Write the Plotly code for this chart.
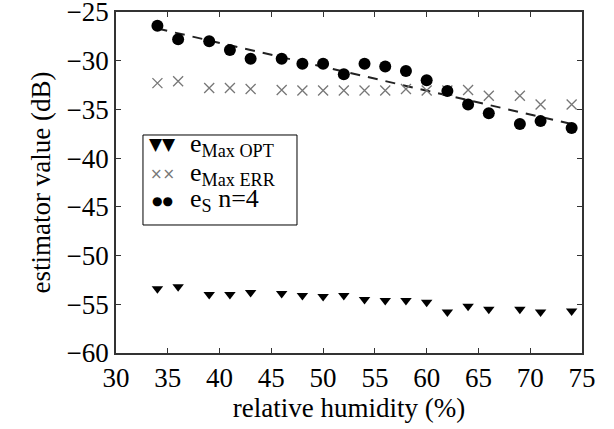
import plotly.graph_objects as go

humidity = [34, 36, 39, 41, 43, 46, 48, 50, 52, 54, 56, 58, 60, 62, 64, 66, 69, 71, 74]
e_max_opt = [-53.4, -53.2, -54.0, -54.0, -53.8, -53.9, -54.1, -54.2, -54.1, -54.5,
             -54.6, -54.6, -54.8, -55.8, -55.2, -55.5, -55.5, -55.8, -55.7]
e_max_err = [-32.3, -32.1, -32.8, -32.8, -32.9, -33.0, -33.05, -33.05, -33.05, -33.05,
             -33.05, -32.9, -33.05, -33.05, -33.0, -33.6, -33.6, -34.5, -34.5]
e_s = [-26.4, -27.8, -28.0, -28.9, -29.8, -29.8, -30.3, -30.3, -31.4, -30.3,
       -30.6, -31.05, -32.0, -33.1, -34.5, -35.4, -36.5, -36.2, -36.9]
fit_x = [34, 74]
fit_y = [-26.7, -36.5]

x_ticks = [30, 35, 40, 45, 50, 55, 60, 65, 70, 75]
y_ticks = [-60, -55, -50, -45, -40, -35, -30, -25]

legend_labels = ["e<sub>Max OPT</sub>", "e<sub>Max ERR</sub>", "e<sub>S</sub> n=4"]
legend_glyphs = ["▼▼", "××", "●●"]

FONT = "'Liberation Serif', 'Times New Roman', serif"
SYMFONT = "'DejaVu Sans', sans-serif"

fig = go.Figure()
fig.add_trace(go.Scatter(x=fit_x, y=fit_y, mode="lines", showlegend=False,
                         line=dict(color="#222222", width=2, dash="10px,8px")))
fig.add_trace(go.Scatter(x=humidity, y=e_max_opt, mode="markers", showlegend=False,
                         name=legend_labels[0],
                         marker=dict(symbol="triangle-down", size=10, color="black")))
fig.add_trace(go.Scatter(x=humidity, y=e_max_err, mode="markers", showlegend=False,
                         name=legend_labels[1],
                         marker=dict(symbol="x-thin-open", size=10, color="#777777",
                                     line=dict(width=1.3, color="#777777"))))
fig.add_trace(go.Scatter(x=humidity, y=e_s, mode="markers", showlegend=False,
                         name=legend_labels[2],
                         marker=dict(symbol="circle", size=12, color="black")))

axis_common = dict(showgrid=False, zeroline=False, showline=True, linecolor="#333333",
                   linewidth=1.5, ticks="inside", ticklen=5, tickcolor="#333333",
                   mirror="ticks", ticklabeloverflow="allow", automargin=False,
                   tickfont=dict(family=FONT, size=27, color="black"))

fig.update_xaxes(range=[30, 75], tickvals=x_ticks,
                 title=dict(text="relative humidity (%)", standoff=6,
                            font=dict(family=FONT, size=27, color="black")),
                 **axis_common)
fig.update_yaxes(range=[-60, -25], tickvals=y_ticks,
                 title=dict(text="estimator value (dB)", standoff=8,
                            font=dict(family=FONT, size=27, color="black")),
                 **axis_common)

# hand-built legend box (two symbols per entry, like the original)
fig.add_shape(type="rect", xref="paper", yref="paper",
              x0=0.0579, x1=0.3884, y0=0.3754, y1=0.6393,
              line=dict(color="black", width=1), fillcolor="white", layer="above")

row_y = [0.608, 0.517, 0.442]
glyph_colors = ["black", "#777777", "black"]
glyph_sizes = [17, 15, 12]
glyph_shift = [2, 3, 1]
label_shift = [1, 3, 2]
for lab, gl, yy, col, gs, gsh, sh in zip(legend_labels, legend_glyphs, row_y, glyph_colors,
                                         glyph_sizes, glyph_shift, label_shift):
    fig.add_annotation(xref="paper", yref="paper", x=0.0998, y=yy, text=gl,
                       showarrow=False, xanchor="center", yanchor="middle", yshift=gsh,
                       font=dict(family=SYMFONT, size=gs, color=col))
    fig.add_annotation(xref="paper", yref="paper", x=0.1545, y=yy, text=lab,
                       showarrow=False, xanchor="left", yanchor="middle", yshift=sh,
                       font=dict(family=FONT, size=26, color="black"))

fig.update_layout(
    width=614, height=429,
    margin=dict(l=116, r=32, t=12, b=76),
    plot_bgcolor="white", paper_bgcolor="white",
    font=dict(family=FONT),
    showlegend=False,
)

fig.write_html("out.html")
